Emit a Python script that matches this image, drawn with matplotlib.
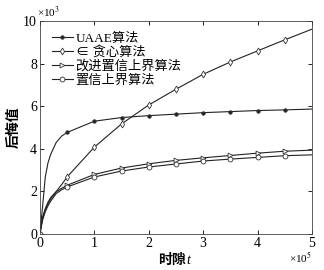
import matplotlib
matplotlib.use('Agg')
import matplotlib.pyplot as plt

plt.rcParams['font.family'] = ['Liberation Serif', 'Noto Sans CJK SC', 'DejaVu Sans']
plt.rcParams['mathtext.fontset'] = 'stix'

# time slots (x 1e5) and regret values (x 1e3)
t = [0, 0.05, 0.1, 0.15, 0.2, 0.3, 0.4, 0.5, 1.0, 1.5, 2.0, 2.5, 3.0, 3.5, 4.0, 4.5, 5.0]
uaae = [0, 1.3, 2.68, 3.35, 3.75, 4.3, 4.6, 4.77, 5.3, 5.47, 5.56, 5.63, 5.70, 5.75, 5.80, 5.83, 5.87]
greedy = [0, 0.8, 1.2, 1.5, 1.72, 2.0, 2.32, 2.68, 4.08, 5.17, 6.06, 6.8, 7.5, 8.08, 8.6, 9.12, 9.62]
iucb = [0, 0.75, 1.15, 1.42, 1.65, 1.98, 2.15, 2.29, 2.8, 3.1, 3.3, 3.46, 3.58, 3.69, 3.8, 3.89, 3.94]
ucb = [0, 0.65, 1.05, 1.33, 1.55, 1.9, 2.08, 2.21, 2.68, 2.96, 3.15, 3.29, 3.43, 3.52, 3.6, 3.68, 3.72]

labels = ['UAAE算法', '∈ 贪心算法', '改进置信上界算法', '置信上界算法']
markers = ['o', 'd', '>', 'o']
mark_idx = [0, 7, 8, 9, 10, 11, 12, 13, 14, 15]

fig = plt.figure(figsize=(3.24, 2.70), dpi=100)
ax = fig.add_axes([0.123, 0.133, 0.840, 0.789])

series = [uaae, greedy, iucb, ucb]
for i, y in enumerate(series):
    face = '#222222' if i == 0 else 'white'
    ms = 2.5 if i == 0 else 3.5
    ax.plot(t, y, color='#222222', lw=0.8, marker=markers[i], ms=ms,
            mfc=face, mec='#333333', mew=0.6, markevery=mark_idx, label=labels[i])

ax.set_xlim(0, 5)
ax.set_ylim(0, 10)
ax.set_xticks([0, 1, 2, 3, 4, 5])
ax.set_yticks([0, 2, 4, 6, 8, 10])
ax.tick_params(direction='in', length=3, width=0.6, labelsize=10, top=True, right=True, pad=2)
for s in ax.spines.values():
    s.set_linewidth(0.6)
    s.set_color('#444444')

# x label: Chinese text plus italic t
ax.text(0.535, -0.14, '时隙', transform=ax.transAxes, fontsize=10,
        fontweight='bold', ha='right', va='baseline')
ax.text(0.538, -0.14, 't', transform=ax.transAxes, fontsize=10,
        style='italic', ha='left', va='baseline')
ax.set_ylabel('后悔值', fontsize=10, fontweight='bold', labelpad=2)
ax.text(-0.012, 1.005, '×10$^3$', transform=ax.transAxes, fontsize=8, ha='left', va='bottom')
ax.text(1.0, -0.075, '×10$^5$', transform=ax.transAxes, fontsize=8, ha='right', va='top')

ax.legend(loc='upper left', frameon=False, fontsize=9.5, handlelength=1.6,
          handletextpad=0.2, labelspacing=0.1, borderaxespad=0.3,
          bbox_to_anchor=(0.01, 0.99))

fig.savefig('out.png', dpi=100)
